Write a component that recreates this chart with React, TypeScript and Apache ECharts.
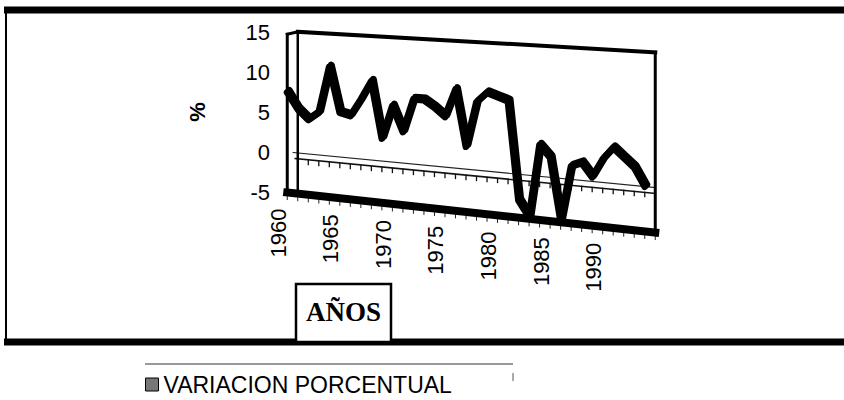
import React, { useEffect, useRef } from 'react';
import * as echarts from 'echarts';

const years = [
  '1960', '1961', '1962', '1963', '1964', '1965', '1966', '1967', '1968', '1969',
  '1970', '1971', '1972', '1973', '1974', '1975', '1976', '1977', '1978', '1979',
  '1980', '1981', '1982', '1983', '1984', '1985', '1986', '1987', '1988', '1989',
  '1990', '1991', '1992', '1993', '1994',
];
const variacion = [
  7.5, 5.5, 4.3, 5.3, 11.0, 5.5, 5.2, 7.3, 9.6, 2.8,
  6.8, 3.8, 7.8, 7.8, 7.0, 6.0, 9.3, 2.7, 8.0, 9.2,
  8.8, 8.4, -3.0, -4.8, 3.6, 2.3, -4.8, 1.5, 2.0, 0.5,
  2.6, 4.0, 3.0, 2.0, 0.0,
];
const yearTickLabels = ['1960', '1965', '1970', '1975', '1980', '1985', '1990'];
const seriesName = 'VARIACION PORCENTUAL';
const yMin = -5;
const yMax = 15;
const yStep = 5;

const TOP_DROP = 20;
const BOTTOM_DROP = 40;

function skew(p: number[], cs: any): number[] {
  const u = (p[0] - cs.x) / cs.width;
  const v = (p[1] - cs.y) / cs.height;
  const top = cs.y + TOP_DROP * u;
  const bot = cs.y + cs.height + BOTTOM_DROP * u;
  return [p[0], top + v * (bot - top)];
}

const SANS = '"Liberation Sans", Arial, sans-serif';

export default function App() {
  const ref = useRef<HTMLDivElement>(null);
  useEffect(() => {
    if (!ref.current) return;
    const chart = echarts.init(ref.current, null, { renderer: 'svg' });
    const n = years.length;
    const option: any = {
      animation: false,
      backgroundColor: '#fff',
      grid: { left: 282, top: 32, right: 194, bottom: 208, containLabel: false },
      xAxis: { type: 'category', data: years, show: false, boundaryGap: true },
      yAxis: {
        type: 'value', min: yMin, max: yMax, interval: yStep,
        name: '%', nameLocation: 'middle', nameRotate: 90, nameGap: 74,
        nameTextStyle: { fontSize: 22, fontWeight: 'bold', color: '#000', fontFamily: SANS },
        axisLine: { show: false }, axisTick: { show: false }, splitLine: { show: false },
        axisLabel: { fontSize: 22, color: '#000', fontFamily: SANS, margin: 12 },
      },
      legend: {
        left: 145, top: 373, padding: 0, itemWidth: 13, itemHeight: 13,
        data: [{ name: seriesName, icon: 'rect', itemStyle: { color: '#777', borderColor: '#000', borderWidth: 1 } }],
        textStyle: { fontSize: 23, color: '#000', fontFamily: SANS },
        selectedMode: false,
      },
      series: [
        {
          type: 'custom', name: 'frame', silent: true, z: 1,
          data: [[0, 0]],
          renderItem: (params: any, api: any) => {
            const cs = params.coordSys;
            const P = (c: number, v: number) => skew(api.coord([c, v]), cs);
            const L = -0.5, R = n - 0.5;
            const innerC = L + 1.0;
            const children: any[] = [];
            const line = (a: number[], b: number[], w: number, color = '#000') => children.push({
              type: 'line', shape: { x1: a[0], y1: a[1], x2: b[0], y2: b[1] },
              style: { stroke: color, lineWidth: w, lineCap: 'square' },
            });
            const z0 = P(L, 0), z1 = P(R, 0);
            line([z0[0] + 6, z0[1]], z1, 1.2, '#222');
            line([z0[0] + 8, z0[1] + 6], [z1[0], z1[1] + 6], 1.5, '#111');
            for (let i = 0; i <= n; i++) {
              const t = P(i - 0.5, 0);
              if (t[0] < z0[0] + 8) continue;
              line([t[0], t[1] + 6], [t[0], t[1] + 10], 1.3, '#111');
            }
            for (let i = 0; i <= n; i++) {
              const t = P(i - 0.5, yMin);
              line([t[0], t[1] + 4], [t[0], t[1] + 7], 1, '#222');
            }
            const tl = P(L, yMax), tr = P(R, yMax), bl = P(L, yMin), br = P(R, yMin);
            const itl = P(innerC, yMax), ibl = P(innerC, yMin);
            line([tl[0], tl[1] + 2], [bl[0], bl[1]], 3);
            line([itl[0], itl[1] - 1], [ibl[0], ibl[1] - 2], 2.5);
            line([tl[0], tl[1] + 2], [itl[0], itl[1] - 1], 3);
            line([itl[0], itl[1] - 1], tr, 4);
            line(tr, br, 3);
            line(bl, br, 8);
            return { type: 'group', children };
          },
        },
        {
          type: 'custom', name: seriesName, z: 3,
          itemStyle: { color: '#000' },
          data: variacion.map((v, i) => [i, v]),
          renderItem: (params: any, api: any) => {
            if (params.dataIndex !== 0) return null;
            const cs = params.coordSys;
            const pts = variacion.map((v, i) => skew(api.coord([i, v]), cs));
            return {
              type: 'group',
              children: [
                {
                  type: 'polyline', shape: { points: pts.map((p) => [p[0] + 2, p[1] - 2]) },
                  style: { stroke: '#000', lineWidth: 7, fill: null, lineJoin: 'round', lineCap: 'round' },
                },
                {
                  type: 'polyline', shape: { points: pts },
                  style: { stroke: '#000', lineWidth: 7, fill: null, lineJoin: 'round', lineCap: 'round' },
                },
              ],
            };
          },
        },
        {
          type: 'custom', name: 'xlabels', silent: true, z: 2,
          data: yearTickLabels.map((l) => [years.indexOf(l), yMin]),
          renderItem: (params: any, api: any) => {
            const cs = params.coordSys;
            const idx = api.value(0);
            const p = skew(api.coord([idx, yMin]), cs);
            return {
              type: 'text', x: p[0] - 9, y: p[1] + 16, rotation: Math.PI / 2,
              style: {
                text: years[idx], fontSize: 22, fontFamily: SANS, fill: '#000',
                align: 'right', verticalAlign: 'middle',
                textAlign: 'right', textVerticalAlign: 'middle',
              },
            };
          },
        },
      ],
      graphic: [
        { type: 'line', shape: { x1: 4, y1: 10, x2: 844, y2: 10 }, style: { stroke: '#000', lineWidth: 7 } },
        { type: 'line', shape: { x1: 4, y1: 342, x2: 844, y2: 342 }, style: { stroke: '#000', lineWidth: 7 } },
        { type: 'line', shape: { x1: 6, y1: 10, x2: 6, y2: 345 }, style: { stroke: '#000', lineWidth: 2 } },
        { type: 'line', shape: { x1: 145, y1: 364, x2: 513, y2: 364 }, style: { stroke: '#333', lineWidth: 1 } },
        { type: 'line', shape: { x1: 513, y1: 373, x2: 513, y2: 381 }, style: { stroke: '#555', lineWidth: 1 } },
        {
          type: 'rect', shape: { x: 296, y: 284, width: 95, height: 58 },
          style: { fill: '#fff', stroke: '#000', lineWidth: 2.5 }, z: 10,
        },
        {
          type: 'text', x: 343.5, y: 312, z: 11,
          style: {
            text: 'AÑOS', fontSize: 27, fontWeight: 'bold', fontFamily: '"Liberation Serif", "Times New Roman", serif',
            fill: '#000', align: 'center', verticalAlign: 'middle', textAlign: 'center', textVerticalAlign: 'middle',
          },
        },
      ],
    };
    chart.setOption(option);
    return () => chart.dispose();
  }, []);
  return <div ref={ref} style={{ position: 'fixed', left: 0, top: 0, width: 844, height: 400 }} />;
}
